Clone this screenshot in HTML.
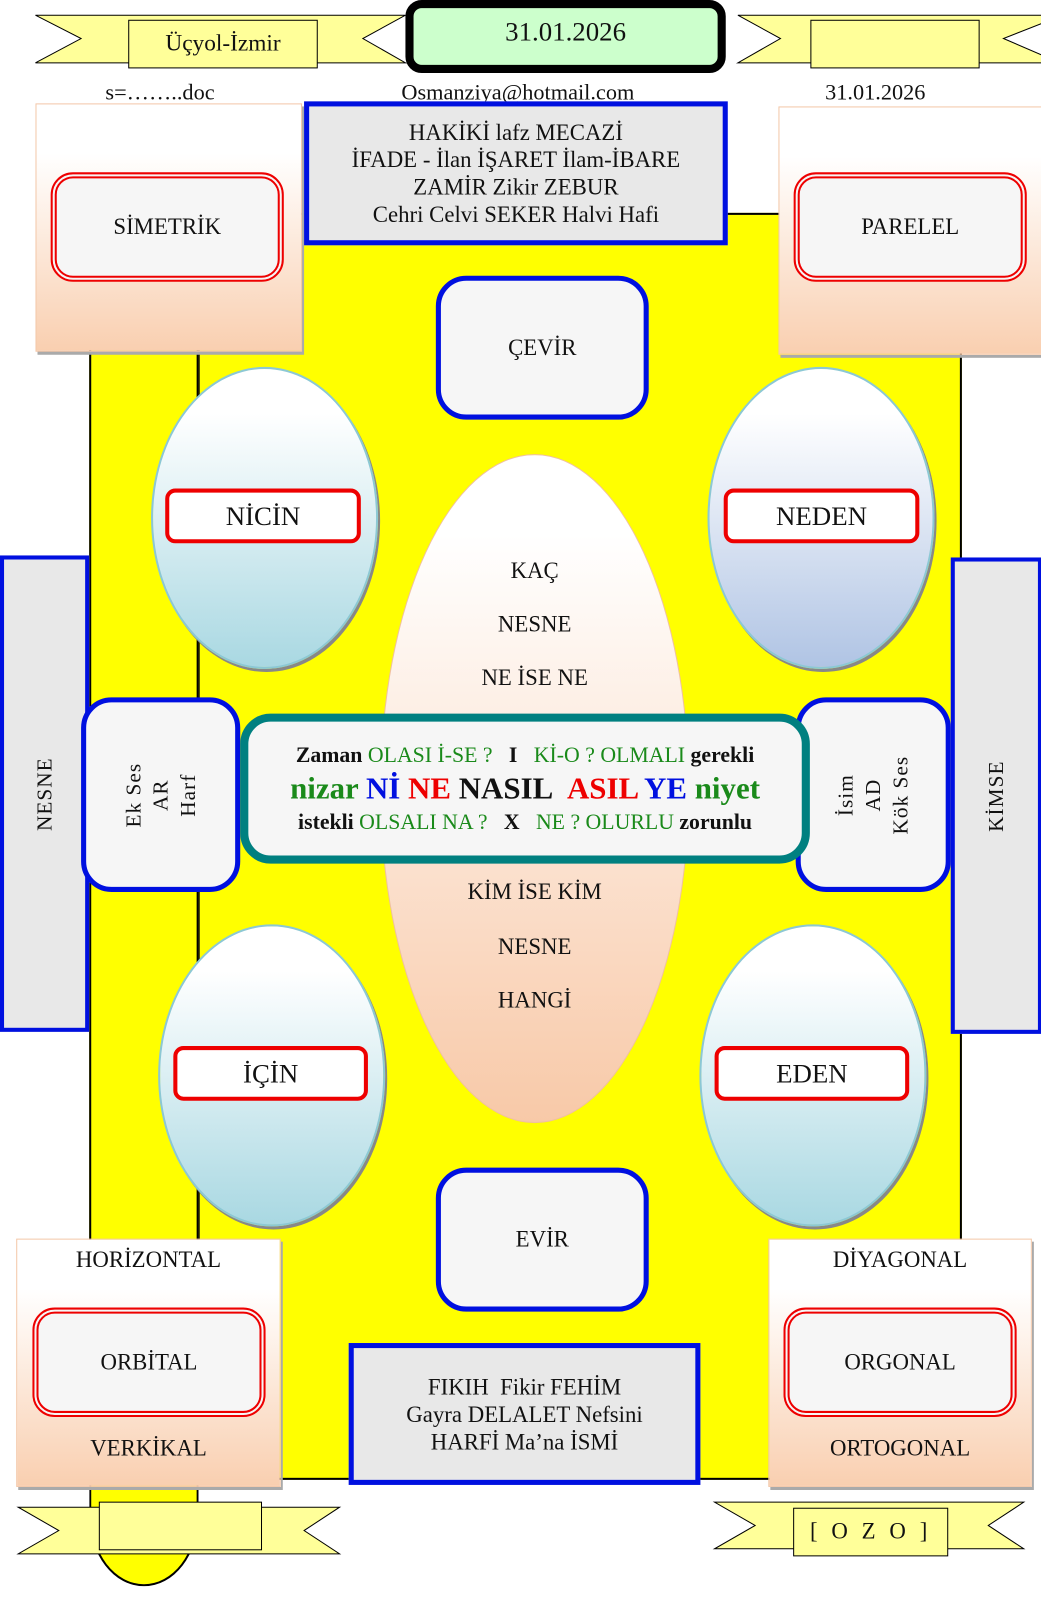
<!DOCTYPE html>
<html><head><meta charset="utf-8"><style>
body{margin:0;width:1041px;height:1589px;position:relative;background:#fff;overflow:hidden;font-family:"Liberation Serif",serif;color:#111}
#w{position:absolute;left:0;top:0;width:1041px;height:1589px;transform:scale(1.0136);transform-origin:0 0}
.a{position:absolute;box-sizing:border-box}
.c{display:flex;align-items:center;justify-content:center;text-align:center}
.panel{background:linear-gradient(#fff,#fff 20%,#f9cfb0);border:1px solid #f3c7a8;box-shadow:2px 3px 0 #aaa}
.red{background:#f6f6f6;border:3px double #e00;border-width:6px;border-radius:22px;font-size:22.5px}
.blue{background:#f6f6f6;border:5px solid #0010e0;border-radius:30px;font-size:22.5px}
.grey{background:#e8e8e8;border:5px solid #0010e0;font-size:22.5px;line-height:27px}
.ov{border-radius:50%;background:linear-gradient(#fff,#fff 15%,#a9d8e2);border:2px solid #8cc8d4;box-shadow:2px 3px 0 #888}
.lab{background:#fff;border:4px solid #e00;border-radius:10px;font-size:26.5px}
.et{position:absolute;left:0;width:100%;text-align:center;font-size:22.5px}
.g{color:#1a8a1a}
</style></head><body><div id="w">
<div class="a" style="left:88px;top:340px;width:108px;height:1225px;background:#ff0;border:2px solid #000;border-top:none;border-radius:0 0 54px 54px/0 0 70px 70px"></div>
<div class="a" style="left:195px;top:210px;width:754px;height:1250px;background:#ff0;border:2px solid #000"></div>
<div class="a" style="left:88px;top:340px;width:108px;height:1120px;background:#ff0;border-left:2px solid #000;border-right:2px solid #000"></div>

<svg class="a" style="left:0;top:0" width="1041" height="80">
<polygon points="35,15 400,15 358,38 400,62 35,62 80,38" fill="#ffff99" stroke="#000"/>
<rect x="127" y="20" width="186" height="47" fill="#ffff99" stroke="#000"/>
<polygon points="728,15 1041,15 1041,18 990,38 1041,60 1041,62 728,62 770,38" fill="#ffff99" stroke="#000"/>
<rect x="800" y="20" width="166" height="47" fill="#ffff99" stroke="#000"/>
</svg>
<div class="a c" style="left:127px;top:20px;width:186px;height:45px;font-size:23px">Üçyol-İzmir</div>
<div class="a c" style="left:400px;top:0;width:316px;height:72px;background:#ccffcc;border:8px solid #000;border-radius:16px;font-size:26.5px;padding-bottom:10px">31.01.2026</div>
<div class="a" style="left:104px;top:78px;font-size:22px">s=……..doc</div>
<div class="a" style="left:396px;top:78px;font-size:22px">Osmanziya@hotmail.com</div>
<div class="a" style="left:814px;top:78px;font-size:22px">31.01.2026</div>

<div class="a panel" style="left:35px;top:102px;width:263px;height:245px"></div>
<div class="a red c" style="left:50px;top:170px;width:230px;height:108px">SİMETRİK</div>
<div class="a panel" style="left:768px;top:105px;width:273px;height:245px"></div>
<div class="a red c" style="left:783px;top:170px;width:230px;height:108px">PARELEL</div>
<div class="a grey c" style="left:300px;top:100px;width:418px;height:142px">HAKİKİ lafz MECAZİ<br>İFADE - İlan İŞARET İlam-İBARE<br>ZAMİR Zikir ZEBUR<br>Cehri Celvi SEKER Halvi Hafi</div>

<div class="a blue c" style="left:430px;top:272px;width:210px;height:142px">ÇEVİR</div>
<div class="a blue c" style="left:430px;top:1152px;width:210px;height:142px">EVİR</div>

<div class="a" style="left:375px;top:448px;width:305px;height:660px;border-radius:50%;background:linear-gradient(#fff,#fff 12%,#f8c9a8);border:1px solid #f0c0a0">
<div class="et" style="top:101px">KAÇ</div><div class="et" style="top:154px">NESNE</div><div class="et" style="top:207px">NE İSE NE</div>
<div class="et" style="top:418px">KİM İSE KİM</div><div class="et" style="top:472px">NESNE</div><div class="et" style="top:525px">HANGİ</div>
</div>

<div class="a ov" style="left:149px;top:362px;width:224px;height:298px"></div>
<div class="a lab c" style="left:163px;top:482px;width:193px;height:54px">NİCİN</div>
<div class="a ov" style="left:698px;top:362px;width:224px;height:298px;background:linear-gradient(#fff,#fff 15%,#b0c4e4)"></div>
<div class="a lab c" style="left:714px;top:482px;width:193px;height:54px">NEDEN</div>
<div class="a ov" style="left:156px;top:912px;width:224px;height:298px"></div>
<div class="a lab c" style="left:171px;top:1032px;width:192px;height:54px">İÇİN</div>
<div class="a ov" style="left:690px;top:912px;width:224px;height:298px"></div>
<div class="a lab c" style="left:705px;top:1032px;width:192px;height:54px">EDEN</div>

<div class="a c" style="left:0;top:548px;width:88px;height:470px;background:#e8e8e8;border:4px solid #0010e0"><div style="transform:rotate(-90deg);font-size:21px;letter-spacing:1px">NESNE</div></div>
<div class="a c" style="left:938px;top:550px;width:90px;height:470px;background:#e8e8e8;border:4px solid #0010e0"><div style="transform:rotate(-90deg);font-size:21px;letter-spacing:1px">KİMSE</div></div>
<div class="a blue c" style="left:80px;top:688px;width:157px;height:192px"><div style="transform:rotate(-90deg);font-size:21px;line-height:27px;white-space:nowrap;letter-spacing:1px">Ek Ses<br>AR<br>Harf</div></div>
<div class="a blue c" style="left:785px;top:688px;width:153px;height:192px"><div style="transform:rotate(-90deg);font-size:21px;line-height:27px;white-space:nowrap;letter-spacing:1px">İsim<br>AD<br>Kök Ses</div></div>

<div class="a c" style="left:237px;top:704px;width:562px;height:148px;background:#f6f6f6;border:8px solid #008080;border-radius:30px;flex-direction:column;font-weight:bold">
<div style="font-size:21.5px;line-height:32px;white-space:nowrap">Zaman <span class="g" style="font-weight:normal">OLASI İ-SE ?</span> &nbsp; I &nbsp; <span class="g" style="font-weight:normal">Kİ-O ? OLMALI</span> gerekli</div>
<div style="font-size:30.5px;line-height:34px;white-space:nowrap"><span class="g">nizar</span> <span style="color:#0010e0">Nİ</span> <span style="color:#e00">NE</span> NASIL &nbsp;<span style="color:#e00">ASIL</span> <span style="color:#0010e0">YE</span> <span class="g">niyet</span></div>
<div style="font-size:21.5px;line-height:32px;white-space:nowrap">istekli <span class="g" style="font-weight:normal">OLSALI NA ?</span> &nbsp; X &nbsp; <span class="g" style="font-weight:normal">NE ? OLURLU</span> zorunlu</div>
</div>

<div class="a panel" style="left:16px;top:1222px;width:261px;height:245px"></div>
<div class="a" style="left:16px;top:1230px;width:261px;text-align:center;font-size:22.5px">HORİZONTAL</div>
<div class="a red c" style="left:32px;top:1290px;width:230px;height:108px">ORBİTAL</div>
<div class="a" style="left:16px;top:1416px;width:261px;text-align:center;font-size:22.5px">VERKİKAL</div>
<div class="a panel" style="left:758px;top:1222px;width:260px;height:245px"></div>
<div class="a" style="left:758px;top:1230px;width:260px;text-align:center;font-size:22.5px">DİYAGONAL</div>
<div class="a red c" style="left:773px;top:1290px;width:230px;height:108px">ORGONAL</div>
<div class="a" style="left:758px;top:1416px;width:260px;text-align:center;font-size:22.5px">ORTOGONAL</div>
<div class="a grey c" style="left:344px;top:1325px;width:347px;height:140px">FIKIH &nbsp;Fikir FEHİM<br>Gayra DELALET Nefsini<br>HARFİ Ma’na İSMİ</div>

<svg class="a" style="left:0;top:1470px" width="1041" height="80">
<polygon points="18,17 335,17 300,40 335,63 18,63 58,40" fill="#ffff99" stroke="#000"/>
<rect x="98" y="12" width="160" height="47" fill="#ffff99" stroke="#000"/>
<polygon points="705,12 1010,12 975,35 1010,58 705,58 745,35" fill="#ffff99" stroke="#000"/>
<rect x="783" y="18" width="152" height="47" fill="#ffff99" stroke="#000"/>
</svg>
<div class="a c" style="left:783px;top:1488px;width:152px;height:45px;font-size:22.5px;letter-spacing:4px">[ O Z O ]</div>
</div></body></html>
